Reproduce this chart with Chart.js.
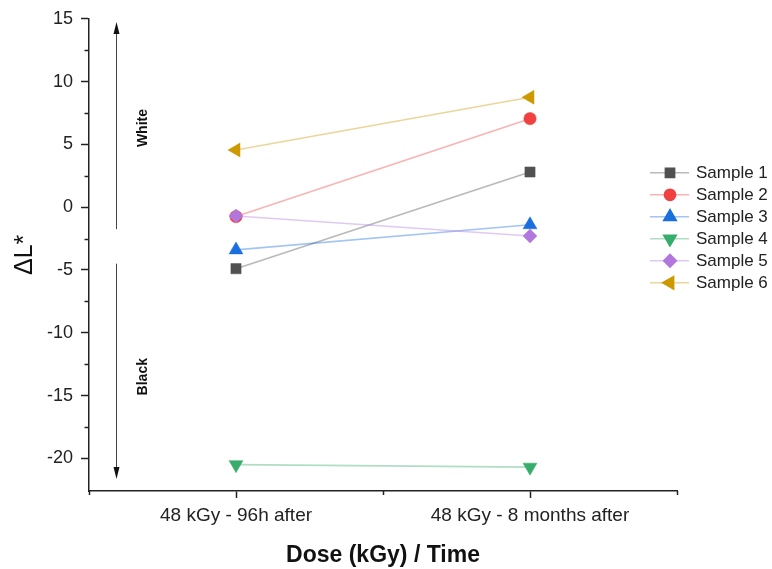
<!DOCTYPE html>
<html>
<head>
<meta charset="utf-8">
<script src="https://cdn.jsdelivr.net/npm/chart.js@4.4.1/dist/chart.umd.min.js"></script>
<style>
  html, body { margin: 0; padding: 0; background: #ffffff; }
  #wrap { width: 772px; height: 569px; }
</style>
</head>
<body>
<div id="wrap"><canvas id="c" width="772" height="569"></canvas></div>
<script>
// ---------- data ----------
const categories = ['48 kGy - 96h after', '48 kGy - 8 months after'];
const seriesNames = ['Sample 1', 'Sample 2', 'Sample 3', 'Sample 4', 'Sample 5', 'Sample 6'];
const sample1 = [-4.9, 2.8];
const sample2 = [-0.75, 7.05];
const sample3 = [-3.4, -1.4];
const sample4 = [-20.5, -20.7];
const sample5 = [-0.7, -2.3];
const sample6 = [4.55, 8.75];
const yTicks = [-20, -15, -10, -5, 0, 5, 10, 15];
const yMinorTicks = [-17.5, -12.5, -7.5, -2.5, 2.5, 7.5, 12.5];
const arrowLabels = ['White', 'Black'];

// ---------- styles ----------
const FONT = "'Liberation Sans', Arial, Helvetica, sans-serif";
const markerColors = ['#515151', '#F14040', '#1A6FDF', '#37AD6B', '#B177DE', '#CC9900'];
const lineColors = ['rgba(81,81,81,0.4)', 'rgba(241,64,64,0.4)', 'rgba(26,111,223,0.4)',
                    'rgba(55,173,107,0.4)', 'rgba(177,119,222,0.4)', 'rgba(204,153,0,0.4)'];
const pointStyles = ['rect', 'circle', 'triangle', 'triangle', 'rectRot', 'triangle'];
const pointRotations = [0, 0, 0, 180, 0, -90];
const pointRadii = [7.2, 6.2, 8, 8, 7, 8];
const seriesValues = [sample1, sample2, sample3, sample4, sample5, sample6];

const datasets = seriesValues.map((vals, i) => ({
  label: seriesNames[i],
  data: vals,
  borderColor: lineColors[i],
  backgroundColor: markerColors[i],
  pointBackgroundColor: markerColors[i],
  pointBorderColor: markerColors[i],
  pointBorderWidth: 0.5,
  pointStyle: pointStyles[i],
  rotation: pointRotations[i],
  pointRadius: pointRadii[i],
  borderWidth: 1.6,
  tension: 0,
  order: 5 - i
}));

const AXIS_COLOR = '#222222';

const extras = {
  id: 'extras',
  afterDraw(chart) {
    const ctx = chart.ctx;
    const xs = chart.scales.x, ys = chart.scales.y;
    const ca = chart.chartArea;
    ctx.save();
    // minor y ticks
    ctx.strokeStyle = AXIS_COLOR;
    ctx.lineWidth = 1.5;
    yMinorTicks.forEach(v => {
      const y = Math.round(ys.getPixelForValue(v)) + 0.5;
      ctx.beginPath();
      ctx.moveTo(ca.left - 4.5, y);
      ctx.lineTo(ca.left, y);
      ctx.stroke();
    });
    // minor x tick at middle + axis-end ticks
    [0.5, -0.5, 1.5].forEach(v => {
      const x = Math.round(xs.getPixelForValue(v)) + 0.5;
      ctx.beginPath();
      ctx.moveTo(x, ca.bottom);
      ctx.lineTo(x, ca.bottom + 4);
      ctx.stroke();
    });

    // arrows
    const ax = Math.round(xs.getPixelForValue(-0.408)) + 0.5;
    ctx.strokeStyle = '#444444';
    ctx.fillStyle = '#111111';
    ctx.lineWidth = 1;
    const upTop = ys.getPixelForValue(14.75), upBot = ys.getPixelForValue(-1.75);
    const dnTop = ys.getPixelForValue(-4.5), dnBot = ys.getPixelForValue(-21.65);
    ctx.beginPath(); ctx.moveTo(ax, upBot); ctx.lineTo(ax, upTop + 10); ctx.stroke();
    ctx.beginPath(); ctx.moveTo(ax, upTop); ctx.lineTo(ax - 3, upTop + 12); ctx.lineTo(ax + 3, upTop + 12); ctx.closePath(); ctx.fill();
    ctx.beginPath(); ctx.moveTo(ax, dnTop); ctx.lineTo(ax, dnBot - 10); ctx.stroke();
    ctx.beginPath(); ctx.moveTo(ax, dnBot); ctx.lineTo(ax - 3, dnBot - 12); ctx.lineTo(ax + 3, dnBot - 12); ctx.closePath(); ctx.fill();

    // arrow labels
    const tx = xs.getPixelForValue(-0.316);
    ctx.fillStyle = '#111111';
    ctx.font = 'bold 14px ' + FONT;
    ctx.textAlign = 'center';
    ctx.textBaseline = 'middle';
    [[arrowLabels[0], 6.3], [arrowLabels[1], -13.5]].forEach(([t, v]) => {
      ctx.save();
      ctx.translate(tx, ys.getPixelForValue(v));
      ctx.rotate(-Math.PI / 2);
      ctx.fillText(t, 0, 0);
      ctx.restore();
    });

    // legend
    const lx0 = ca.right - 27, lx1 = ca.right + 12, mx = ca.right - 7, textX = ca.right + 19;
    const ly0 = ca.top + 154, dy = 22;
    ctx.font = '17px ' + FONT;
    ctx.textAlign = 'left';
    ctx.textBaseline = 'middle';
    chart.data.datasets.forEach((ds, i) => {
      const y = ly0 + i * dy;
      ctx.strokeStyle = lineColors[i];
      ctx.lineWidth = 1.6;
      ctx.beginPath(); ctx.moveTo(lx0, y); ctx.lineTo(lx1, y); ctx.stroke();
      ctx.fillStyle = markerColors[i];
      ctx.strokeStyle = markerColors[i];
      Chart.helpers.drawPoint(ctx, {
        pointStyle: pointStyles[i], rotation: pointRotations[i],
        radius: pointRadii[i] * 0.9, borderWidth: 0.5
      }, mx, y);
      ctx.fillStyle = '#222222';
      ctx.fillText(ds.label, textX, y + 1);
    });
    ctx.restore();
  }
};

new Chart(document.getElementById('c'), {
  type: 'line',
  data: { labels: categories, datasets },
  plugins: [extras],
  options: {
    responsive: false,
    animation: false,
    layout: { padding: { left: 0, right: 95, top: 16, bottom: 0 } },
    plugins: { legend: { display: false }, tooltip: { enabled: false } },
    scales: {
      x: {
        type: 'category',
        offset: true,
        grid: { offset: false, drawOnChartArea: false, tickLength: 7, color: AXIS_COLOR, tickWidth: 1.5 },
        border: { display: true, color: AXIS_COLOR, width: 1.5 },
        ticks: { font: { family: FONT, size: 19 }, color: '#222222', padding: 6, maxRotation: 0, autoSkip: false },
        title: { display: true, text: 'Dose (kGy) / Time', color: '#111111',
                 font: { family: FONT, size: 23, weight: 'bold' }, padding: { top: 0, bottom: 0 } },
        afterFit(s) { s.height = 78; }
      },
      y: {
        min: -22.6,
        max: 15,
        afterBuildTicks(s) { s.ticks = yTicks.map(v => ({ value: v })); },
        grid: { drawOnChartArea: false, tickLength: 8, color: AXIS_COLOR, tickWidth: 1.5 },
        border: { display: true, color: AXIS_COLOR, width: 1.5 },
        ticks: { font: { family: FONT, size: 18 }, color: '#222222', padding: 8 },
        title: { display: true, text: 'ΔL*', color: '#111111',
                 font: { family: FONT, size: 25 }, padding: { top: 10, bottom: 0 } },
        afterFit(s) { s.width = 89; }
      }
    }
  }
});
</script>
</body>
</html>
